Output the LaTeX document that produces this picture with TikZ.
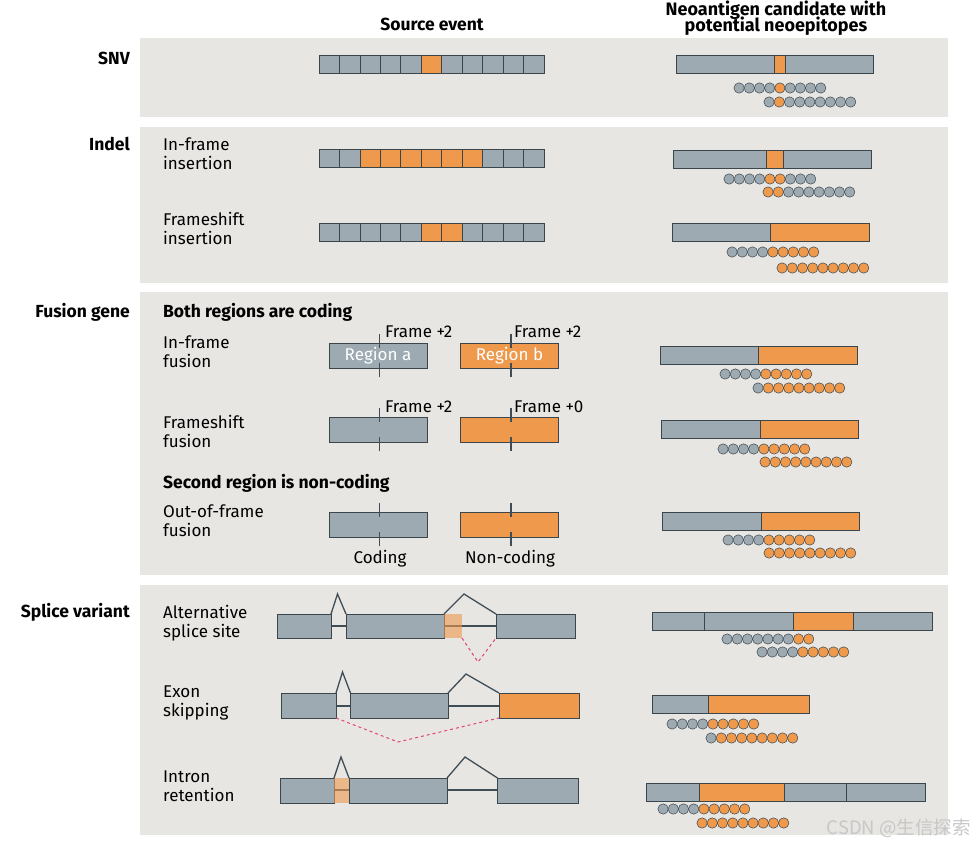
\documentclass[tikz,border=0pt]{standalone}
\usepackage{fontspec}
\setmainfont{Fira Sans}
\newfontfamily\cjkfont{Noto Sans CJK SC}
\usetikzlibrary{positioning}

\definecolor{panelbg}{HTML}{E8E6E3}
\definecolor{epigray}{HTML}{9DAAB2}
\definecolor{epiorange}{HTML}{EE994C}
\definecolor{edgedark}{HTML}{3A454C}
\definecolor{spliceline}{HTML}{3F4D56}
\definecolor{junction}{HTML}{E0457C}

\begin{document}
\begin{tikzpicture}[
  x=1pt, y=-1pt,
  font=\fontsize{17}{19}\selectfont,
  panel/.style={fill=panelbg, draw=none},
  header/.style={align=center, inner sep=0pt, font=\fontsize{17.5}{17}\selectfont\bfseries},
  secname/.style={anchor=east, inner sep=0pt, font=\fontsize{17.5}{19}\selectfont\bfseries},
  subhead/.style={anchor=west, inner sep=0pt, font=\fontsize{17.5}{19}\selectfont\bfseries},
  rowlabel/.style={anchor=west, align=left, inner sep=0pt},
  cell/.style={draw=edgedark, line width=0.7pt, fill=epigray},
  bar/.style={draw=edgedark, line width=0.8pt},
  bead/.style={circle, draw=edgedark, line width=0.5pt, minimum size=10.4pt, inner sep=0pt},
  fusebox/.style={draw=edgedark, line width=0.8pt, minimum width=98pt, minimum height=25pt,
    inner sep=0pt, text=white},
  frametick/.style={spliceline, line width=1.4pt},
  framelab/.style={anchor=west, inner sep=0pt},
  exon/.style={draw=edgedark, line width=0.7pt, fill=epigray},
  hat/.style={spliceline, line width=1.3pt},
  intron/.style={spliceline, line width=2.4pt},
  junc/.style={junction, line width=1pt, dash pattern=on 3pt off 3pt},
]
\useasboundingbox (0,0) rectangle (975,846);

% Panels
\fill[panel] (140,38)  rectangle (948,117);
\fill[panel] (140,127) rectangle (948,283);
\fill[panel] (140,292) rectangle (948,575);
\fill[panel] (140,585) rectangle (948,835);

% Column headers
\node[header] (hsrc) at (432,24) {Source event};
\node[header, anchor=north, font=\fontsize{18}{16}\selectfont\bfseries] (hneo) at (776,0.3)
  {Neoantigen candidate with\\[-3.5pt]potential neoepitopes};

% Section names
\node[secname] (snv)    at (130,58)  {SNV};
\node[secname] (indel)  at (130,144) {Indel};
\node[secname] (fusion) at (130,312) {Fusion gene};
\node[secname] (splice) at (130,612) {Splice variant};

% Row labels
\node[rowlabel] (linsf) at (163,154) {In-frame\\insertion};
\node[rowlabel] (lfshi) at (163,228) {Frameshift\\insertion};
\node[subhead]  (both)  at (163,312) {Both regions are coding};
\node[rowlabel] (linff) at (163,352) {In-frame\\fusion};
\node[rowlabel] (lfshf) at (163,431) {Frameshift\\fusion};
\node[subhead]  (secnc) at (163,483) {Second region is non-coding};
\node[rowlabel] (loof)  at (163,521) {Out-of-frame\\fusion};
\node[rowlabel] (lalt)  at (163,623) {Alternative\\splice site};
\node[rowlabel] (lskip) at (163,703) {Exon\\skipping};
\node[rowlabel] (lret)  at (163,786) {Intron\\retention};

% Codon strips (source events)
\foreach \yy/\oa/\ob in {55/5/5, 149/2/7, 223/5/6} {
  \foreach \i in {0,...,10}
    \draw[cell] ({319+\i*20.45},\yy) rectangle ++(20.45,18.5);
  \foreach \i in {\oa,...,\ob}
    \draw[cell, fill=epiorange] ({319+\i*20.45},\yy) rectangle ++(20.45,18.5);
}

% Candidate proteins
\foreach \xa/\xb/\ya/\c in {
  676/873/55/epigray, 774/785/55/epiorange,
  673/871/150/epigray, 766/783/150/epiorange,
  672/770/223/epigray, 770/869/223/epiorange,
  660/758/346/epigray, 758/857/346/epiorange,
  661/760/420/epigray, 760/858/420/epiorange,
  662/761/512/epigray, 761/859/512/epiorange,
  652/704/612/epigray, 704/793/612/epigray, 793/853/612/epiorange, 853/932/612/epigray,
  652/708/695/epigray, 708/809/695/epiorange,
  646/699/783/epigray, 699/784/783/epiorange, 784/846/783/epigray, 846/925/783/epigray}
  \draw[bar, fill=\c] (\xa,\ya) rectangle (\xb,\ya+18);

% Neoepitope beads (start x, y, grey before, orange count)
\foreach \bx/\by/\na/\nb [count=\k] in {
  734/88/4/1, 764/102/1/1,
  724/179/4/2, 763/192/0/2,
  727/252/4/5, 777/268/0/9,
  720/374/4/5, 753/388/1/8,
  718/449/4/5, 760/462/0/9,
  723/540/4/5, 764/553/0/9,
  722/639/7/2, 757/652/4/5,
  667/724/4/5, 706/738/1/8,
  658/809/4/5, 697/823/0/9} {
  \foreach \i in {0,...,8} {
    \pgfmathtruncatemacro\isor{and(\i>=\na,\i<\na+\nb)}
    \ifnum\isor=1 \def\bc{epiorange}\else\def\bc{epigray}\fi
    \node[bead, fill=\bc] (bead\k-\i) at ({\bx+5.1+\i*10.2},\by) {};
  }
}

% Fusion genes
\node[fusebox, fill=epigray]   (rega) at (378,355.5)   {Region a};
\node[fusebox, fill=epiorange] (regb) at (509.5,355.5) {Region b};
\node[fusebox, fill=epigray]   (fsa)  at (378,429.5)   {};
\node[fusebox, fill=epiorange] (fsb)  at (509.5,429.5) {};
\node[fusebox, fill=epigray]   (ofa)  at (378,524.5)   {};
\node[fusebox, fill=epiorange] (ofb)  at (509.5,524.5) {};

\foreach \b in {rega, regb, fsa, fsb, ofa, ofb} {
  \draw[frametick] ([xshift=1.5pt]\b.north) ++(0,-9) -- ++(0,14);
  \draw[frametick] ([xshift=1.5pt]\b.south) ++(0,9) -- ++(0,-14);
}

\node[framelab] (fr1) at (385,332) {Frame +2};
\node[framelab] (fr2) at (514,332) {Frame +2};
\node[framelab] (fr3) at (385,407) {Frame +2};
\node[framelab] (fr4) at (514,407) {Frame +0};
\node (cod)  at (380,559)   {Coding};
\node (ncod) at (510,559)   {Non-coding};

% Splice variants: introns first
\draw[intron] (331,626) -- (346,626);
\draw[intron] (444,626) -- (496,626);
\draw[intron] (336,706) -- (350.5,706);
\draw[intron] (448,706) -- (499,706);
\draw[intron] (334,790) -- (349,790);
\draw[intron] (447,790) -- (497.5,790);

% Exons
\draw[exon] (277,614) rectangle (331,638);
\draw[exon] (346,614) rectangle (444,638);
\draw[exon] (496,614) rectangle (575,638);
\fill[epiorange, fill opacity=0.6] (444,614) rectangle (462,638);

\draw[exon] (281,693) rectangle (336,718);
\draw[exon] (350.5,693) rectangle (448,718);
\draw[exon, fill=epiorange] (499,693) rectangle (579,718);

\draw[exon] (280.5,778) rectangle (334,803);
\draw[exon] (349,778) rectangle (447,803);
\draw[exon] (497.5,778) rectangle (578,803);
\fill[epiorange, fill opacity=0.6] (334,778) rectangle (349,803);

% Splice junction hats
\draw[hat] (331,614) -- (337.5,594) -- (346,614);
\draw[hat] (444,614) -- (464,594) -- (496,614);
\draw[hat] (336,693) -- (342.5,672) -- (350.5,693);
\draw[hat] (448,693) -- (466,674) -- (499,693);
\draw[hat] (334,778) -- (341,757) -- (349,778);
\draw[hat] (447,778) -- (465,757) -- (497.5,778);

% Dashed junctions
\coordinate (altl) at (462,638);
\coordinate (altv) at (478,662);
\coordinate (altr) at (496,638);
\draw[junc] (altl) -- (altv) -- (altr);
\coordinate (skl) at (336,718);
\coordinate (skv) at (398,742);
\coordinate (skr) at (499,718);
\draw[junc] (skl) -- (skv) -- (skr);

% Watermark
\node[anchor=east, text=black!22, inner sep=0pt, font=\cjkfont\fontsize{18.5}{20}\selectfont]
  (wm) at (971,828) {CSDN @生信探索};

\end{tikzpicture}
\end{document}
